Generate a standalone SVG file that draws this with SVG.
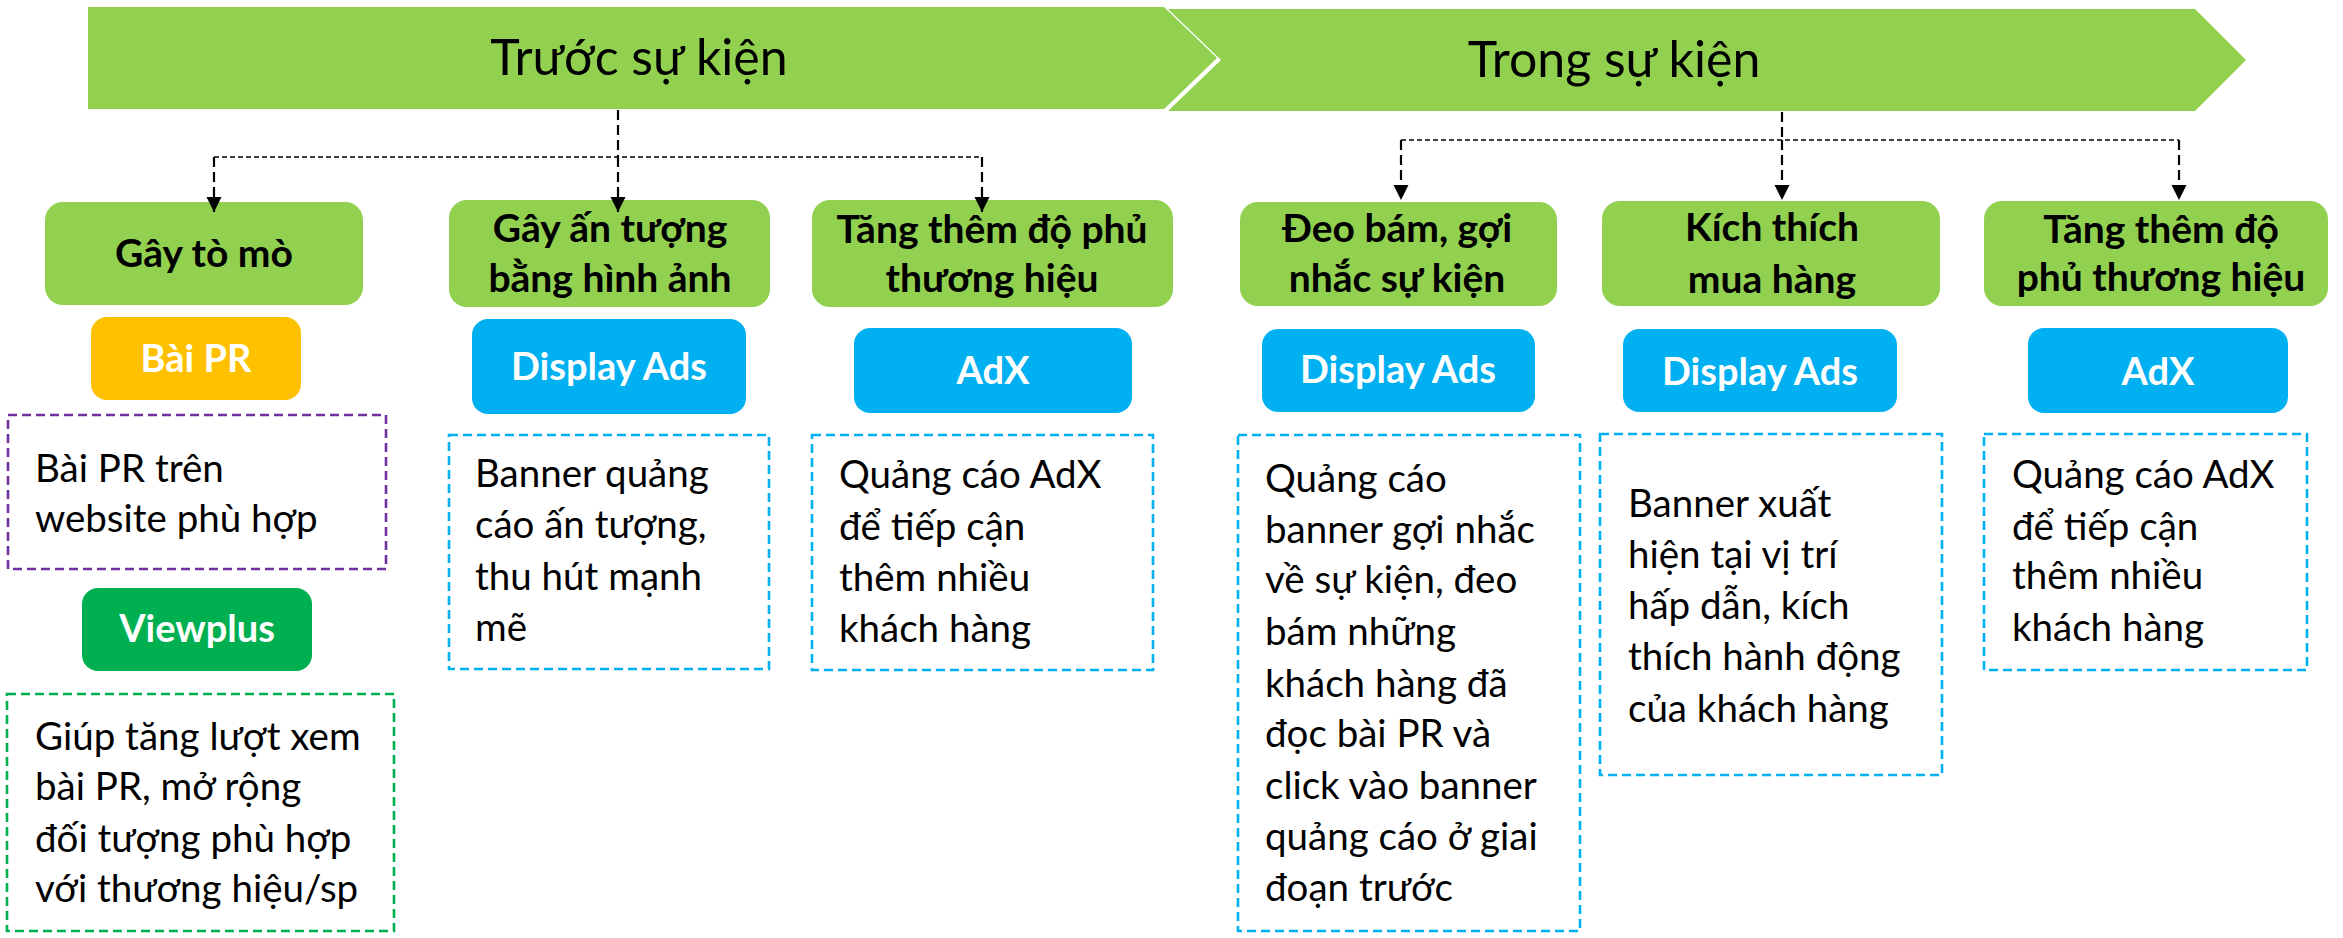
<svg xmlns="http://www.w3.org/2000/svg" width="2343" height="938" viewBox="0 0 2343 938">
<style>
text{font-family:"Lato","Noto Sans",sans-serif;}
.band{fill:#92D050;}
.bandtxt{font-size:50px;fill:#000;text-anchor:middle;}
.hdr{fill:#92D050;}
.hdrtxt{font-size:39px;font-weight:bold;fill:#000;text-anchor:middle;}
.tool{fill:#00B0F0;}
.tooltxt{font-size:38px;font-weight:bold;fill:#fff;text-anchor:middle;}
.body{font-size:38.5px;fill:#000;}
.dbox{fill:none;stroke-width:2.6;stroke-dasharray:9 5;}
.conn-v{fill:none;stroke:#000;stroke-width:2.2;stroke-dasharray:10 5;}
.conn-h{fill:none;stroke:#000;stroke-width:1.4;stroke-dasharray:5 3;}
</style>
<defs>
<marker id="ah" markerWidth="16" markerHeight="16" refX="15" refY="7.5" orient="auto" markerUnits="userSpaceOnUse">
<path d="M0,0 L15,7.5 L0,15 z" fill="#000"/>
</marker>
</defs>
<rect width="2343" height="938" fill="#fff"/>

<g id="band-before">
<polygon class="band" points="88,7 1164,7 1217,58 1164,109 88,109"/>
<text class="bandtxt" x="639" y="75">Trước sự kiện</text>
</g>
<g id="band-during">
<polygon class="band" points="1168,9 2195,9 2246,60 2195,111 1168,111 1221,60"/>
<text class="bandtxt" x="1614" y="77">Trong sự kiện</text>
</g>

<g id="node-gay-to-mo">
<rect class="hdr" x="45" y="202" width="318" height="103" rx="18"/>
<text class="hdrtxt" x="204" y="267">Gây tò mò</text>
</g>
<g id="node-bai-pr">
<rect x="91" y="317" width="210" height="83" rx="16" fill="#FFC000"/>
<text class="tooltxt" x="196" y="372">Bài PR</text>
</g>
<g id="node-bai-pr-desc">
<rect class="dbox" x="8" y="415" width="378" height="154" stroke="#7030A0"/>
<text class="body" x="35" y="482">Bài PR trên</text>
<text class="body" x="35" y="532">website phù hợp</text>
</g>
<g id="node-viewplus">
<rect x="82" y="588" width="230" height="83" rx="16" fill="#00B050"/>
<text class="tooltxt" x="197" y="642">Viewplus</text>
</g>
<g id="node-viewplus-desc">
<rect class="dbox" x="7" y="694" width="387" height="237" stroke="#00B050"/>
<text class="body" x="35" y="750">Giúp tăng lượt xem</text>
<text class="body" x="35" y="800">bài PR, mở rộng</text>
<text class="body" x="35" y="852">đối tượng phù hợp</text>
<text class="body" x="35" y="902">với thương hiệu/sp</text>
</g>

<g id="node-gay-an-tuong">
<rect class="hdr" x="449" y="200" width="321" height="107" rx="18"/>
<text class="hdrtxt" x="610" y="242">Gây ấn tượng</text>
<text class="hdrtxt" x="610" y="292">bằng hình ảnh</text>
</g>
<g id="node-display-1">
<rect class="tool" x="472" y="319" width="274" height="95" rx="16"/>
<text class="tooltxt" x="609" y="380">Display Ads</text>
</g>
<g id="node-display-1-desc">
<rect class="dbox" x="449" y="435" width="320" height="234" stroke="#00B0F0"/>
<text class="body" x="475" y="487">Banner quảng</text>
<text class="body" x="475" y="538">cáo ấn tượng,</text>
<text class="body" x="475" y="590">thu hút mạnh</text>
<text class="body" x="475" y="641">mẽ</text>
</g>

<g id="node-tang-do-phu-1">
<rect class="hdr" x="812" y="200" width="361" height="107" rx="18"/>
<text class="hdrtxt" x="992" y="243">Tăng thêm độ phủ</text>
<text class="hdrtxt" x="992" y="292">thương hiệu</text>
</g>
<g id="node-adx-1">
<rect class="tool" x="854" y="328" width="278" height="85" rx="16"/>
<text class="tooltxt" x="993" y="384">AdX</text>
</g>
<g id="node-adx-1-desc">
<rect class="dbox" x="812" y="435" width="341" height="235" stroke="#00B0F0"/>
<text class="body" x="839" y="488">Quảng cáo AdX</text>
<text class="body" x="839" y="540">để tiếp cận</text>
<text class="body" x="839" y="591">thêm nhiều</text>
<text class="body" x="839" y="642">khách hàng</text>
</g>

<g id="node-deo-bam">
<rect class="hdr" x="1240" y="202" width="317" height="104" rx="18"/>
<text class="hdrtxt" x="1397" y="242">Đeo bám, gợi</text>
<text class="hdrtxt" x="1397" y="292">nhắc sự kiện</text>
</g>
<g id="node-display-2">
<rect class="tool" x="1262" y="329" width="273" height="83" rx="16"/>
<text class="tooltxt" x="1398" y="383">Display Ads</text>
</g>
<g id="node-display-2-desc">
<rect class="dbox" x="1238" y="435" width="342" height="496" stroke="#00B0F0"/>
<text class="body" x="1265" y="492">Quảng cáo</text>
<text class="body" x="1265" y="543">banner gợi nhắc</text>
<text class="body" x="1265" y="593">về sự kiện, đeo</text>
<text class="body" x="1265" y="645">bám những</text>
<text class="body" x="1265" y="697">khách hàng đã</text>
<text class="body" x="1265" y="747">đọc bài PR và</text>
<text class="body" x="1265" y="799">click vào banner</text>
<text class="body" x="1265" y="850">quảng cáo ở giai</text>
<text class="body" x="1265" y="901">đoạn trước</text>
</g>

<g id="node-kich-thich">
<rect class="hdr" x="1602" y="201" width="338" height="105" rx="18"/>
<text class="hdrtxt" x="1772" y="241">Kích thích</text>
<text class="hdrtxt" x="1772" y="293">mua hàng</text>
</g>
<g id="node-display-3">
<rect class="tool" x="1623" y="329" width="274" height="83" rx="16"/>
<text class="tooltxt" x="1760" y="385">Display Ads</text>
</g>
<g id="node-display-3-desc">
<rect class="dbox" x="1600" y="434" width="342" height="341" stroke="#00B0F0"/>
<text class="body" x="1628" y="517">Banner xuất</text>
<text class="body" x="1628" y="568">hiện tại vị trí</text>
<text class="body" x="1628" y="619">hấp dẫn, kích</text>
<text class="body" x="1628" y="670">thích hành động</text>
<text class="body" x="1628" y="722">của khách hàng</text>
</g>

<g id="node-tang-do-phu-2">
<rect class="hdr" x="1984" y="201" width="344" height="105" rx="18"/>
<text class="hdrtxt" x="2161" y="243">Tăng thêm độ</text>
<text class="hdrtxt" x="2161" y="291">phủ thương hiệu</text>
</g>
<g id="node-adx-2">
<rect class="tool" x="2028" y="328" width="260" height="85" rx="16"/>
<text class="tooltxt" x="2158" y="385">AdX</text>
</g>
<g id="node-adx-2-desc">
<rect class="dbox" x="1984" y="434" width="323" height="236" stroke="#00B0F0"/>
<text class="body" x="2012" y="488">Quảng cáo AdX</text>
<text class="body" x="2012" y="540">để tiếp cận</text>
<text class="body" x="2012" y="589">thêm nhiều</text>
<text class="body" x="2012" y="641">khách hàng</text>
</g>

<g id="connectors">
<path class="conn-v" d="M618,110 V157"/>
<path class="conn-h" d="M214,157 H982"/>
<path class="conn-v" d="M214,157 V212" marker-end="url(#ah)"/>
<path class="conn-v" d="M618,157 V212" marker-end="url(#ah)"/>
<path class="conn-v" d="M982,157 V212" marker-end="url(#ah)"/>
<path class="conn-v" d="M1782,112 V140"/>
<path class="conn-h" d="M1401,140 H2179"/>
<path class="conn-v" d="M1401,140 V200" marker-end="url(#ah)"/>
<path class="conn-v" d="M1782,140 V200" marker-end="url(#ah)"/>
<path class="conn-v" d="M2179,140 V200" marker-end="url(#ah)"/>
</g>
</svg>
